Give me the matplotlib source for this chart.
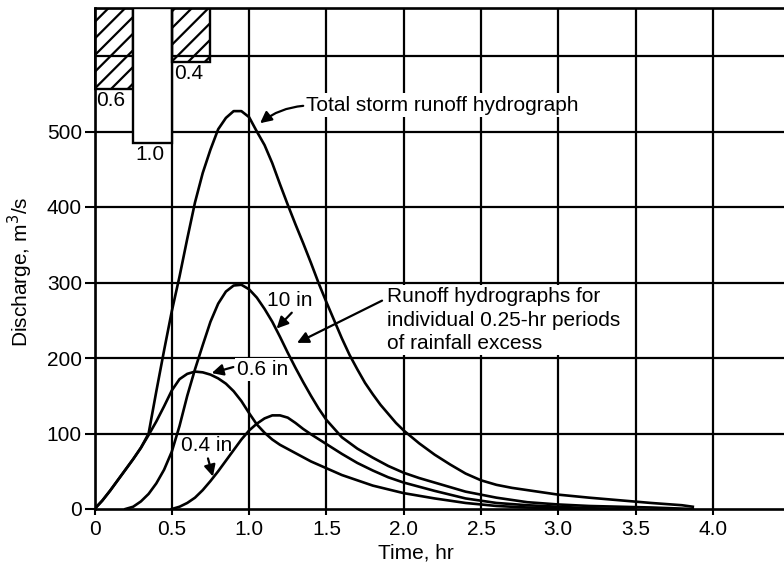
import matplotlib
matplotlib.use("Agg")
import matplotlib.pyplot as plt

plt.rcParams['font.family'] = ['Liberation Sans', 'DejaVu Sans']

# ---------------- data ----------------
t_total = [0, 0.05, 0.1, 0.15, 0.2, 0.25, 0.3, 0.35, 0.4, 0.45, 0.5, 0.55, 0.6, 0.65, 0.7,
           0.75, 0.8, 0.85, 0.9, 0.95, 1.0, 1.05, 1.1, 1.15, 1.2, 1.25, 1.3, 1.35, 1.4, 1.45,
           1.5, 1.55, 1.6, 1.65, 1.7, 1.75, 1.8, 1.85, 1.9, 1.95, 2.0, 2.1, 2.2, 2.3, 2.4,
           2.5, 2.6, 2.7, 2.8, 2.9, 3.0, 3.2, 3.4, 3.6, 3.8, 3.87]
q_total = [0, 11, 24, 38, 52, 66, 81, 100, 156, 210, 262, 308, 358, 406, 445,
           476, 503, 518, 527, 527, 519, 500, 482, 458, 430, 403, 377, 352, 326, 299,
           274, 250, 226, 204, 185, 167, 152, 138, 126, 114, 104, 87, 72, 59, 47,
           38, 32, 28, 25, 22, 19, 15, 11.5, 8, 5, 3]

t_06 = [0, 0.05, 0.1, 0.15, 0.2, 0.25, 0.3, 0.35, 0.4, 0.45, 0.5, 0.55, 0.6, 0.65, 0.7,
        0.75, 0.8, 0.85, 0.9, 0.95, 1.0, 1.05, 1.1, 1.15, 1.2, 1.3, 1.4, 1.5, 1.6, 1.7,
        1.8, 1.9, 2.0, 2.2, 2.4, 2.6, 2.8, 3.0, 3.2]
q_06 = [0, 11, 24, 38, 52, 66, 81, 98, 116, 136, 157, 172, 179, 182, 181,
        178, 173, 166, 156, 143, 127, 112, 101, 92, 85, 74, 63, 54, 45, 38,
        31, 26, 21, 14, 8, 4, 2, 1, 0]

t_10 = [0.2, 0.25, 0.3, 0.35, 0.4, 0.45, 0.5, 0.55, 0.6, 0.65, 0.7, 0.75, 0.8, 0.85, 0.9,
        0.95, 1.0, 1.05, 1.1, 1.15, 1.2, 1.25, 1.3, 1.35, 1.4, 1.45, 1.5, 1.6, 1.7, 1.8,
        1.9, 2.0, 2.1, 2.2, 2.3, 2.4, 2.5, 2.6, 2.8, 3.0, 3.2, 3.4, 3.6, 3.87]
q_10 = [0, 3, 10, 20, 34, 52, 76, 110, 150, 185, 217, 248, 272, 288, 296,
        297, 291, 280, 265, 248, 228, 207, 187, 168, 150, 133, 118, 95, 80, 68,
        57, 48, 41, 35, 29, 23, 19, 15, 9, 6, 4, 3, 2, 0]

t_04 = [0.5, 0.55, 0.6, 0.65, 0.7, 0.75, 0.8, 0.85, 0.9, 0.95, 1.0, 1.05, 1.1, 1.15, 1.2,
        1.25, 1.3, 1.35, 1.4, 1.5, 1.6, 1.7, 1.8, 1.9, 2.0, 2.2, 2.4, 2.6, 2.8, 3.0, 3.2, 3.5]
q_04 = [0, 3, 8, 15, 25, 37, 50, 64, 78, 92, 104, 113, 120, 124, 124,
        121, 114, 106, 99, 86, 73, 61, 51, 42, 35, 24, 14, 8, 5, 3, 1, 0]

# rainfall excess hyetograph (in) per 0.25-hr period
rain_start = [0.0, 0.25, 0.5]
rain_depth = [0.6, 1.0, 0.4]
rain_hatch = ['//', '', '//']
rain_face = ['none', 'white', 'none']
period = 0.25

x_ticks = [0, 0.5, 1.0, 1.5, 2.0, 2.5, 3.0, 3.5, 4.0]
x_ticklabels = ['0', '0.5', '1.0', '1.5', '2.0', '2.5', '3.0', '3.5', '4.0']
y_ticks = [0, 100, 200, 300, 400, 500]
y_grid = [100, 200, 300, 400, 500, 600]

# ---------------- figure ----------------
W, H = 784, 570
fig = plt.figure(figsize=(W / 100, H / 100), dpi=100)
x0_px, y0_px, ytop_px = 94.5, 509, 8
ax = fig.add_axes([x0_px / W, (H - y0_px) / H, (W - x0_px) / W, (y0_px - ytop_px) / H])
ax.set_xlim(0, (W - x0_px) / 154.6)
ax.set_ylim(0, (y0_px - ytop_px) / 0.755)

lw_grid = 1.6
for g in y_grid:
    ax.axhline(g, color='black', lw=lw_grid, zorder=1)
ax.set_xticks(x_ticks)
ax.set_xticklabels(x_ticklabels)
ax.set_yticks(y_ticks)
ax.xaxis.grid(True, color='black', lw=lw_grid, zorder=1)
ax.set_axisbelow(True)
for s in ['left', 'bottom', 'top']:
    ax.spines[s].set_linewidth(1.9)
ax.spines['right'].set_visible(False)
fs = 15
ax.tick_params(axis='both', labelsize=fs, width=1.5, colors='black')
ax.tick_params(axis='y', length=7, pad=2)
ax.tick_params(axis='x', length=4, pad=4)

lw_c = 1.9
for t, q in [(t_total, q_total), (t_06, q_06), (t_10, q_10), (t_04, q_04)]:
    ax.plot(t, q, color='black', lw=lw_c, zorder=3, solid_joinstyle='round')

# hyetograph on an inverted twin axis hanging from the top
ax2 = ax.twinx()
ax2.set_ylim((y0_px - ytop_px) / 134.7, 0)
ax2.set_yticks([])
for s in ax2.spines.values():
    s.set_visible(False)
plt.rcParams['hatch.linewidth'] = 1.6
for xs, d, h, fc in zip(rain_start, rain_depth, rain_hatch, rain_face):
    ax2.bar(xs, d, width=period, align='edge', bottom=0, facecolor=fc,
            edgecolor='black', hatch=h, lw=1.7, zorder=4)
    ax2.annotate(f"{d:.1f}", xy=(xs, d), xytext=(1.5, -1.5), textcoords='offset points',
                 ha='left', va='top', fontsize=fs, zorder=5)

# annotations (white background interrupts the grid, as in the reference)
box = dict(facecolor='white', edgecolor='none', pad=1.5)
arrow_kw = dict(arrowstyle='-|>', color='black', lw=1.6, mutation_scale=17,
                shrinkA=0, shrinkB=0)
ax.text(1.368, 535, "Total storm runoff hydrograph", fontsize=fs, ha='left', va='center',
        bbox=box, zorder=2)
ax.annotate("", xy=(1.071, 511), xytext=(1.35, 534),
            arrowprops=dict(arrow_kw, connectionstyle='arc3,rad=0.15'), zorder=4)

ax.text(1.892, 294, "Runoff hydrographs for\nindividual 0.25-hr periods\nof rainfall excess",
        fontsize=fs, ha='left', va='top', linespacing=1.3, bbox=box, zorder=2)
ax.annotate("", xy=(1.31, 220), xytext=(1.86, 276), arrowprops=arrow_kw, zorder=4)

ax.text(1.265, 276, "10 in", fontsize=fs, ha='center', va='center', zorder=2)
ax.annotate("", xy=(1.178, 239), xytext=(1.276, 260), arrowprops=arrow_kw, zorder=4)

ax.text(0.92, 185, "0.6 in", fontsize=fs, ha='left', va='center', bbox=box, zorder=2)
ax.annotate("", xy=(0.758, 180), xytext=(0.898, 188), arrowprops=arrow_kw, zorder=4)

ax.text(0.728, 84, "0.4 in", fontsize=fs, ha='center', va='center', zorder=2)
ax.annotate("", xy=(0.766, 43), xytext=(0.734, 67), arrowprops=arrow_kw, zorder=4)

fig.text(20 / W, 1 - 272 / H, "Discharge, m$^3$/s", rotation=90, ha='center', va='center',
         fontsize=fs)
fig.text(416 / W, 1 - 553 / H, "Time, hr", ha='center', va='center', fontsize=fs)

fig.savefig("out.png", dpi=100, facecolor='white')
